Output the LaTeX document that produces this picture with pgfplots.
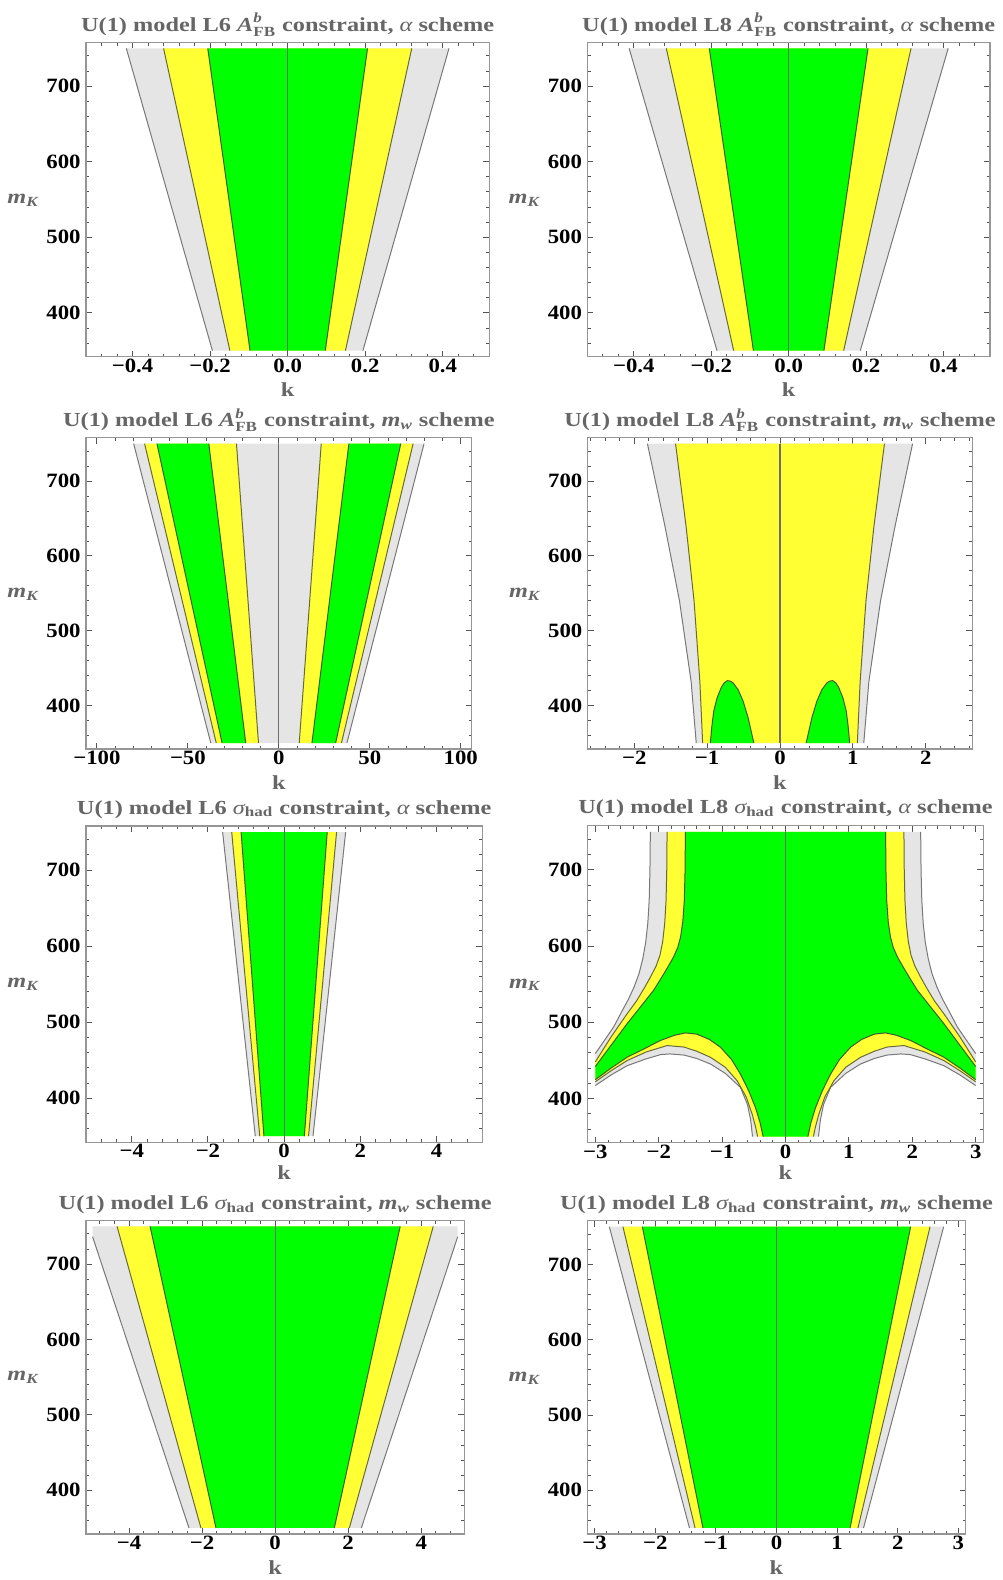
\documentclass[border=0pt]{standalone}
\usepackage{amsmath}
\usepackage{fontspec}
\setmainfont{Liberation Serif}
\newfontfamily\titlefont[FakeStretch=1.22]{Liberation Serif}
\newfontfamily\tickfont[FakeStretch=1.12]{Liberation Serif}
\usepackage{pgfplots}
\pgfplotsset{compat=1.18}

\definecolor{zgray}{RGB}{229,229,229}
\definecolor{zyellow}{RGB}{255,255,51}
\definecolor{zgreen}{RGB}{0,255,0}
\definecolor{edgeG}{RGB}{120,120,120}
\definecolor{edgeY}{RGB}{105,105,60}
\definecolor{edgeGr}{RGB}{60,95,45}
\definecolor{framec}{RGB}{150,150,150}
\definecolor{tickc}{RGB}{85,85,85}
\definecolor{labelc}{RGB}{102,102,102}
\definecolor{zeroc}{RGB}{110,110,110}

\newcommand{\Afb}{$\textit{A}^{\textit{b}}_{\text{FB}}$}
\newcommand{\sighad}{$\text{\mdseries\itshape σ}_{\text{had}}$}
\newcommand{\alf}{{\mdseries\itshape α}}
\newcommand{\mw}{$\textit{m}_{\textit{w}}$}

\pgfplotsset{
  every axis title/.style={at={(0.5,1)}, anchor=base, yshift=5.6bp},
  every axis x label/.style={at={(0.5,0)}, anchor=base, yshift=-20bp},
  every axis y label/.style={at={(0,0.5)}, anchor=base east, inner sep=0pt, xshift=-23.5bp, yshift=-1.9bp},
  panel/.style={
    scale only axis, anchor=north west,
    ymin=342, ymax=758,
    ytick={400,500,600,700}, yticklabels={400,500,600,700},
    minor ytick={360,380,...,740},
    tick align=inside,
    major tick length=3bp, minor tick length=1.6bp,
    every tick/.append style={tickc, line width=0.45bp},
    axis line style={framec, line width=0.7bp},
    ticklabel style={font=\tickfont\bfseries\fontsize{10.2}{12}\selectfont, text=black},
    xticklabel style={anchor=base, yshift=-7.8bp},
    yticklabel style={anchor=east, inner sep=0pt, xshift=-2.5bp},
    title style={font=\titlefont\bfseries\fontsize{10}{12}\selectfont, text=labelc},
    xlabel={k},
    xlabel style={font=\titlefont\bfseries\fontsize{10}{12}\selectfont, text=labelc},
    ylabel={$\textit{m}_{\textit{K}}$},
    ylabel style={font=\titlefont\bfseries\fontsize{10}{12}\selectfont, text=labelc},
  },
  gz/.style={fill=zgray, draw=none},
  yz/.style={fill=zyellow, draw=none},
  grz/.style={fill=zgreen, draw=none},
  eG/.style={edgeG, line width=0.5bp},
  eY/.style={edgeY, line width=0.5bp},
  eGr/.style={edgeGr, line width=0.5bp},
  zl/.style={zeroc, line width=0.55bp},
}

\begin{document}
\begin{tikzpicture}
\useasboundingbox (0,0) rectangle (501.5bp,-790bp);

% ---------------- row 1, left: L6, A_FB, alpha scheme
\begin{axis}[panel, at={(43bp,-21.15bp)}, width=201.65bp, height=157.2bp,
  xmin=-0.52, xmax=0.52,
  xtick={-0.4,-0.2,0,0.2,0.4}, xticklabels={−0.4,−0.2,0.0,0.2,0.4},
  minor xtick={-0.48,-0.44,...,0.48},
  title={U(1) model L6 \Afb{} constraint, \alf{} scheme}]
\addplot[gz] coordinates {(-0.416,750) (-0.194,350) (0.194,350) (0.416,750)} --cycle;
\addplot[yz] coordinates {(-0.320,750) (-0.149,350) (0.149,350) (0.320,750)} --cycle;
\addplot[grz] coordinates {(-0.206,750) (-0.097,350) (0.097,350) (0.206,750)} --cycle;
\addplot[eG] coordinates {(-0.416,750) (-0.194,350)};
\addplot[eG] coordinates {(0.416,750) (0.194,350)};
\addplot[eY] coordinates {(-0.320,750) (-0.149,350)};
\addplot[eY] coordinates {(0.320,750) (0.149,350)};
\addplot[eGr] coordinates {(-0.206,750) (-0.097,350)};
\addplot[eGr] coordinates {(0.206,750) (0.097,350)};
\addplot[zl] coordinates {(0,350) (0,750)};
\end{axis}

% ---------------- row 1, right: L8, A_FB, alpha scheme
\begin{axis}[panel, at={(293.65bp,-21.15bp)}, width=201.35bp, height=157.2bp,
  xmin=-0.52, xmax=0.52,
  xtick={-0.4,-0.2,0,0.2,0.4}, xticklabels={−0.4,−0.2,0.0,0.2,0.4},
  minor xtick={-0.48,-0.44,...,0.48},
  title={U(1) model L8 \Afb{} constraint, \alf{} scheme}]
\addplot[gz] coordinates {(-0.412,750) (-0.185,350) (0.185,350) (0.412,750)} --cycle;
\addplot[yz] coordinates {(-0.316,750) (-0.142,350) (0.142,350) (0.316,750)} --cycle;
\addplot[grz] coordinates {(-0.205,750) (-0.091,350) (0.091,350) (0.205,750)} --cycle;
\addplot[eG] coordinates {(-0.412,750) (-0.185,350)};
\addplot[eG] coordinates {(0.412,750) (0.185,350)};
\addplot[eY] coordinates {(-0.316,750) (-0.142,350)};
\addplot[eY] coordinates {(0.316,750) (0.142,350)};
\addplot[eGr] coordinates {(-0.205,750) (-0.091,350)};
\addplot[eGr] coordinates {(0.205,750) (0.091,350)};
\addplot[zl] coordinates {(0,350) (0,750)};
\end{axis}

% ---------------- row 2, left: L6, A_FB, m_w scheme
\begin{axis}[panel, at={(43bp,-218.85bp)}, width=192.85bp, height=155.65bp,
  xmin=-106, xmax=106,
  xtick={-100,-50,0,50,100}, xticklabels={−100,−50,0,50,100},
  minor xtick={-100,-90,...,100},
  title={U(1) model L6 \Afb{} constraint, \mw{} scheme}]
\addplot[gz] coordinates {(-79.8,750) (-37.4,350) (37.4,350) (79.8,750)} --cycle;
\addplot[yz] coordinates {(-73.8,750) (-34.4,350) (-11.2,350) (-23.3,750)} --cycle;
\addplot[yz] coordinates {(73.8,750) (34.4,350) (11.2,350) (23.3,750)} --cycle;
\addplot[grz] coordinates {(-67.0,750) (-31.2,350) (-18.2,350) (-38.5,750)} --cycle;
\addplot[grz] coordinates {(67.0,750) (31.2,350) (18.2,350) (38.5,750)} --cycle;
\addplot[eG] coordinates {(-79.8,750) (-37.4,350)};
\addplot[eG] coordinates {(79.8,750) (37.4,350)};
\addplot[eY] coordinates {(-73.8,750) (-34.4,350)};
\addplot[eY] coordinates {(73.8,750) (34.4,350)};
\addplot[eY] coordinates {(-23.3,750) (-11.2,350)};
\addplot[eY] coordinates {(23.3,750) (11.2,350)};
\addplot[eGr] coordinates {(-67.0,750) (-31.2,350)};
\addplot[eGr] coordinates {(67.0,750) (31.2,350)};
\addplot[eGr] coordinates {(-38.5,750) (-18.2,350)};
\addplot[eGr] coordinates {(38.5,750) (18.2,350)};
\addplot[zl] coordinates {(0,350) (0,750)};
\end{axis}

% ---------------- row 2, right: L8, A_FB, m_w scheme
\begin{axis}[panel, at={(293.85bp,-218.85bp)}, width=192.3bp, height=155.65bp,
  xmin=-2.64, xmax=2.64,
  xtick={-2,-1,0,1,2}, xticklabels={−2,−1,0,1,2},
  minor xtick={-2.6,-2.4,...,2.6},
  title={U(1) model L8 \Afb{} constraint, \mw{} scheme}]
\addplot[gz] coordinates {(-1.82,750) (-1.58,640) (-1.38,540) (-1.22,432) (-1.15,350)
  (1.15,350) (1.22,432) (1.38,540) (1.58,640) (1.82,750)} --cycle;
\addplot[yz] coordinates {(-1.434,750) (-1.29,640) (-1.18,540) (-1.10,432) (-1.062,350)
  (1.062,350) (1.10,432) (1.18,540) (1.29,640) (1.434,750)} --cycle;
\addplot[grz] coordinates {(-0.956,350) (-0.938,370.1) (-0.910,392.4) (-0.864,410.2) (-0.805,424.5)
  (-0.765,430.5) (-0.722,433.4) (-0.680,432.6) (-0.644,430.3) (-0.575,421.4) (-0.506,405.8)
  (-0.437,383.5) (-0.359,350)} --cycle;
\addplot[grz] coordinates {(0.359,350) (0.437,383.5) (0.506,405.8) (0.575,421.4) (0.644,430.3)
  (0.680,432.6) (0.722,433.4) (0.765,430.5) (0.805,424.5) (0.864,410.2) (0.910,392.4)
  (0.938,370.1) (0.956,350)} --cycle;
\addplot[eG] coordinates {(-1.82,750) (-1.58,640) (-1.38,540) (-1.22,432) (-1.15,350)};
\addplot[eG] coordinates {(1.82,750) (1.58,640) (1.38,540) (1.22,432) (1.15,350)};
\addplot[eY] coordinates {(-1.434,750) (-1.29,640) (-1.18,540) (-1.10,432) (-1.062,350)};
\addplot[eY] coordinates {(1.434,750) (1.29,640) (1.18,540) (1.10,432) (1.062,350)};
\addplot[eGr] coordinates {(-0.956,350) (-0.938,370.1) (-0.910,392.4) (-0.864,410.2) (-0.805,424.5)
  (-0.765,430.5) (-0.722,433.4) (-0.680,432.6) (-0.644,430.3) (-0.575,421.4) (-0.506,405.8)
  (-0.437,383.5) (-0.359,350)};
\addplot[eGr] coordinates {(0.359,350) (0.437,383.5) (0.506,405.8) (0.575,421.4) (0.644,430.3)
  (0.680,432.6) (0.722,433.4) (0.765,430.5) (0.805,424.5) (0.864,410.2) (0.910,392.4)
  (0.938,370.1) (0.956,350)};
\addplot[zl] coordinates {(0,350) (0,750)};
\end{axis}

% ---------------- row 3, left: L6, sigma_had, alpha scheme
\begin{axis}[panel, at={(43bp,-413bp)}, width=198.15bp, height=158.15bp,
  xmin=-5.2, xmax=5.2,
  xtick={-4,-2,0,2,4}, xticklabels={−4,−2,0,2,4},
  minor xtick={-4.8,-4.4,...,4.8},
  xlabel style={yshift=1.5bp},
  title style={yshift=0.4bp},
  title={U(1) model L6 \sighad{} constraint, \alf{} scheme}]
\addplot[gz] coordinates {(-1.614,750) (-0.757,350) (0.757,350) (1.614,750)} --cycle;
\addplot[yz] coordinates {(-1.376,750) (-0.640,350) (0.640,350) (1.376,750)} --cycle;
\addplot[grz] coordinates {(-1.130,750) (-0.530,350) (0.530,350) (1.130,750)} --cycle;
\addplot[eG] coordinates {(-1.614,750) (-0.757,350)};
\addplot[eG] coordinates {(1.614,750) (0.757,350)};
\addplot[eY] coordinates {(-1.376,750) (-0.640,350)};
\addplot[eY] coordinates {(1.376,750) (0.640,350)};
\addplot[eGr] coordinates {(-1.130,750) (-0.530,350)};
\addplot[eGr] coordinates {(1.130,750) (0.530,350)};
\addplot[zl] coordinates {(0,350) (0,750)};
\end{axis}

% ---------------- row 3, right: L8, sigma_had, alpha scheme
\begin{axis}[panel, at={(293.85bp,-412.85bp)}, width=197.8bp, height=158.5bp,
  xmin=-3.12, xmax=3.12,
  xtick={-3,-2,-1,0,1,2,3}, xticklabels={−3,−2,−1,0,1,2,3},
  minor xtick={-3,-2.8,...,3},
  xlabel style={yshift=1.5bp},
  title style={yshift=0.4bp},
  title={U(1) model L8 \sighad{} constraint, \alf{} scheme}]
% outer (gray) region
\addplot[gz] coordinates {
  (-2.132,750) (-2.138,700) (-2.150,660) (-2.172,630) (-2.205,605) (-2.25,584) (-2.31,564) (-2.39,546) (-2.48,530) (-2.59,513) (-2.71,494) (-2.85,477) (-3,459)
  (-3,417) (-2.75,431) (-2.5,443) (-2.2,452) (-1.97,457.6) (-1.82,458.5) (-1.6,457) (-1.4,452.5) (-1.184,445.3) (-0.95,433) (-0.711,414.6) (-0.6,392) (-0.55,372) (-0.52,350)
  (0.52,350) (0.55,372) (0.6,392) (0.711,414.6) (0.95,433) (1.184,445.3) (1.4,452.5) (1.6,457) (1.82,458.5) (1.97,457.6) (2.2,452) (2.5,443) (2.75,431) (3,417)
  (3,459) (2.85,477) (2.71,494) (2.59,513) (2.48,530) (2.39,546) (2.31,564) (2.25,584) (2.205,605) (2.172,630) (2.150,660) (2.138,700) (2.132,750)} --cycle;
% middle (yellow) region
\addplot[yz] coordinates {
  (-1.868,750) (-1.873,700) (-1.884,660) (-1.905,630) (-1.937,606) (-1.98,588) (-2.04,574) (-2.12,561) (-2.22,546) (-2.35,528) (-2.5,511) (-2.75,481) (-3,448)
  (-3,422) (-2.75,436.5) (-2.5,449.7) (-2.2,461) (-1.868,469.5) (-1.6,467.5) (-1.4,462) (-1.184,454.1) (-0.95,441) (-0.763,423.3) (-0.62,402) (-0.526,379.4) (-0.47,362) (-0.44,350)
  (0.44,350) (0.47,362) (0.526,379.4) (0.62,402) (0.763,423.3) (0.95,441) (1.184,454.1) (1.4,462) (1.6,467.5) (1.868,469.5) (2.2,461) (2.5,449.7) (2.75,436.5) (3,422)
  (3,448) (2.75,481) (2.5,511) (2.35,528) (2.22,546) (2.12,561) (2.04,574) (1.98,588) (1.937,606) (1.905,630) (1.884,660) (1.873,700) (1.868,750)} --cycle;
% inner (green) region
\addplot[grz] coordinates {
  (-1.579,750) (-1.584,700) (-1.596,660) (-1.62,632) (-1.655,612) (-1.70,598) (-1.77,585) (-1.86,572) (-1.96,558) (-2.08,542) (-2.29,520) (-2.5,498) (-2.75,470) (-3,442)
  (-3,424.7) (-2.75,440) (-2.5,454.1) (-2.2,466.5) (-1.974,476.1) (-1.75,483) (-1.579,486.1) (-1.4,484.5) (-1.2,477.5) (-1.026,467.3) (-0.85,451) (-0.711,432.1) (-0.58,410) (-0.474,388.2) (-0.40,368) (-0.353,350)
  (0.353,350) (0.40,368) (0.474,388.2) (0.58,410) (0.711,432.1) (0.85,451) (1.026,467.3) (1.2,477.5) (1.4,484.5) (1.579,486.1) (1.75,483) (1.974,476.1) (2.2,466.5) (2.5,454.1) (2.75,440) (3,424.7)
  (3,442) (2.75,470) (2.5,498) (2.29,520) (2.08,542) (1.96,558) (1.86,572) (1.77,585) (1.70,598) (1.655,612) (1.62,632) (1.596,660) (1.584,700) (1.579,750)} --cycle;
% contour lines
\addplot[eG] coordinates {(-2.132,750) (-2.138,700) (-2.150,660) (-2.172,630) (-2.205,605) (-2.25,584) (-2.31,564) (-2.39,546) (-2.48,530) (-2.59,513) (-2.71,494) (-2.85,477) (-3,459)};
\addplot[eG] coordinates {(2.132,750) (2.138,700) (2.150,660) (2.172,630) (2.205,605) (2.25,584) (2.31,564) (2.39,546) (2.48,530) (2.59,513) (2.71,494) (2.85,477) (3,459)};
\addplot[eG] coordinates {(-3,417) (-2.75,431) (-2.5,443) (-2.2,452) (-1.97,457.6) (-1.82,458.5) (-1.6,457) (-1.4,452.5) (-1.184,445.3) (-0.95,433) (-0.711,414.6) (-0.6,392) (-0.55,372) (-0.52,350)};
\addplot[eG] coordinates {(3,417) (2.75,431) (2.5,443) (2.2,452) (1.97,457.6) (1.82,458.5) (1.6,457) (1.4,452.5) (1.184,445.3) (0.95,433) (0.711,414.6) (0.6,392) (0.55,372) (0.52,350)};
\addplot[eY] coordinates {(-1.868,750) (-1.873,700) (-1.884,660) (-1.905,630) (-1.937,606) (-1.98,588) (-2.04,574) (-2.12,561) (-2.22,546) (-2.35,528) (-2.5,511) (-2.75,481) (-3,448)};
\addplot[eY] coordinates {(1.868,750) (1.873,700) (1.884,660) (1.905,630) (1.937,606) (1.98,588) (2.04,574) (2.12,561) (2.22,546) (2.35,528) (2.5,511) (2.75,481) (3,448)};
\addplot[eY] coordinates {(-3,422) (-2.75,436.5) (-2.5,449.7) (-2.2,461) (-1.868,469.5) (-1.6,467.5) (-1.4,462) (-1.184,454.1) (-0.95,441) (-0.763,423.3) (-0.62,402) (-0.526,379.4) (-0.47,362) (-0.44,350)};
\addplot[eY] coordinates {(3,422) (2.75,436.5) (2.5,449.7) (2.2,461) (1.868,469.5) (1.6,467.5) (1.4,462) (1.184,454.1) (0.95,441) (0.763,423.3) (0.62,402) (0.526,379.4) (0.47,362) (0.44,350)};
\addplot[eGr] coordinates {(-1.579,750) (-1.584,700) (-1.596,660) (-1.62,632) (-1.655,612) (-1.70,598) (-1.77,585) (-1.86,572) (-1.96,558) (-2.08,542) (-2.29,520) (-2.5,498) (-2.75,470) (-3,442)};
\addplot[eGr] coordinates {(1.579,750) (1.584,700) (1.596,660) (1.62,632) (1.655,612) (1.70,598) (1.77,585) (1.86,572) (1.96,558) (2.08,542) (2.29,520) (2.5,498) (2.75,470) (3,442)};
\addplot[eGr] coordinates {(-3,424.7) (-2.75,440) (-2.5,454.1) (-2.2,466.5) (-1.974,476.1) (-1.75,483) (-1.579,486.1) (-1.4,484.5) (-1.2,477.5) (-1.026,467.3) (-0.85,451) (-0.711,432.1) (-0.58,410) (-0.474,388.2) (-0.40,368) (-0.353,350)};
\addplot[eGr] coordinates {(3,424.7) (2.75,440) (2.5,454.1) (2.2,466.5) (1.974,476.1) (1.75,483) (1.579,486.1) (1.4,484.5) (1.2,477.5) (1.026,467.3) (0.85,451) (0.711,432.1) (0.58,410) (0.474,388.2) (0.40,368) (0.353,350)};
\addplot[zl] coordinates {(0,350) (0,750)};
\end{axis}

% ---------------- row 4, left: L6, sigma_had, m_w scheme
\begin{axis}[panel, at={(43bp,-610.15bp)}, width=189.15bp, height=156.85bp,
  xmin=-5.18, xmax=5.18,
  xtick={-4,-2,0,2,4}, xticklabels={−4,−2,0,2,4},
  minor xtick={-4.8,-4.4,...,4.8},
  title={U(1) model L6 \sighad{} constraint, \mw{} scheme}]
\addplot[gz] coordinates {(-5,750) (-5,736.3) (-2.36,350) (2.36,350) (5,736.3) (5,750)} --cycle;
\addplot[yz] coordinates {(-4.33,750) (-2.032,350) (2.032,350) (4.33,750)} --cycle;
\addplot[grz] coordinates {(-3.425,750) (-1.62,350) (1.62,350) (3.425,750)} --cycle;
\addplot[eG] coordinates {(-5,736.3) (-2.36,350)};
\addplot[eG] coordinates {(5,736.3) (2.36,350)};
\addplot[eY] coordinates {(-4.33,750) (-2.032,350)};
\addplot[eY] coordinates {(4.33,750) (2.032,350)};
\addplot[eGr] coordinates {(-3.425,750) (-1.62,350)};
\addplot[eGr] coordinates {(3.425,750) (1.62,350)};
\addplot[zl] coordinates {(0,350) (0,750)};
\end{axis}

% ---------------- row 4, right: L8, sigma_had, m_w scheme
\begin{axis}[panel, at={(293.65bp,-610.35bp)}, width=189.2bp, height=156.65bp,
  xmin=-3.12, xmax=3.12,
  xtick={-3,-2,-1,0,1,2,3}, xticklabels={−3,−2,−1,0,1,2,3},
  minor xtick={-3,-2.8,...,3},
  title={U(1) model L8 \sighad{} constraint, \mw{} scheme}]
\addplot[gz] coordinates {(-2.757,750) (-1.435,350) (1.435,350) (2.757,750)} --cycle;
\addplot[yz] coordinates {(-2.532,750) (-1.343,350) (1.343,350) (2.532,750)} --cycle;
\addplot[grz] coordinates {(-2.212,750) (-1.213,350) (1.213,350) (2.212,750)} --cycle;
\addplot[eG] coordinates {(-2.757,750) (-1.435,350)};
\addplot[eG] coordinates {(2.757,750) (1.435,350)};
\addplot[eY] coordinates {(-2.532,750) (-1.343,350)};
\addplot[eY] coordinates {(2.532,750) (1.343,350)};
\addplot[eGr] coordinates {(-2.212,750) (-1.213,350)};
\addplot[eGr] coordinates {(2.212,750) (1.213,350)};
\addplot[zl] coordinates {(0,350) (0,750)};
\end{axis}
\end{tikzpicture}
\end{document}
